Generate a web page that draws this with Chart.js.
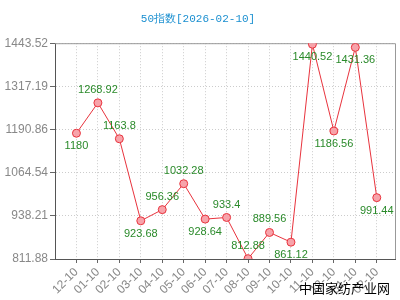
<!DOCTYPE html>
<html>
<head>
<meta charset="utf-8">
<script src="https://cdn.jsdelivr.net/npm/chart.js@4/dist/chart.umd.min.js"></script>
<style>
  html, body { margin: 0; padding: 0; background: #fff; }
</style>
</head>
<body>
<canvas id="chart" width="400" height="300"></canvas>
<script>
// chart data
const months = ['12-10', '01-10', '02-10', '03-10', '04-10', '05-10', '06-10', '07-10',
                '08-10', '09-10', '10-10', '11-10', '12-10', '01-10', '02-10'];
const indexValues = [1180, 1268.92, 1163.8, 923.68, 956.36, 1032.28, 928.64, 933.4,
                     812.88, 889.56, 861.12, 1440.52, 1186.56, 1431.36, 991.44];
const yTicks = [811.88, 938.21, 1064.54, 1190.86, 1317.19, 1443.52];

// where each value label sits relative to its point
const labelSide = ['down', 'up', 'up', 'down', 'up', 'up', 'down', 'up',
                   'up', 'up', 'down', 'down', 'down', 'down', 'down'];

const points = indexValues.map((v, i) => ({ x: i, y: v }));

// value labels, plot frame and watermark
const extras = {
    id: 'extras',
    beforeDatasetsDraw(chart) {
        const { ctx, chartArea: a } = chart;
        ctx.save();
        ctx.strokeStyle = '#999';
        ctx.lineWidth = 1;
        ctx.beginPath();
        ctx.moveTo(a.left, a.top + 0.5);
        ctx.lineTo(a.right + 0.5, a.top + 0.5);
        ctx.lineTo(a.right + 0.5, a.bottom);
        ctx.stroke();
        ctx.restore();
    },
    afterDatasetsDraw(chart) {
        const { ctx } = chart;
        const meta = chart.getDatasetMeta(0);
        ctx.save();
        ctx.font = '11px "Liberation Sans", Arial, sans-serif';
        ctx.fillStyle = '#2a8a2a';
        ctx.textAlign = 'center';
        ctx.textBaseline = 'middle';
        meta.data.forEach((pt, i) => {
            const dy = labelSide[i] === 'up' ? -13 : 13;
            ctx.fillText(String(indexValues[i]), pt.x, pt.y + dy);
        });
        ctx.font = '13px "Noto Sans CJK SC", sans-serif';
        ctx.fillStyle = '#000';
        ctx.textAlign = 'right';
        ctx.fillText('中国家纺产业网', 390, 288);
        ctx.restore();
    }
};

new Chart(document.getElementById('chart'), {
    type: 'line',
    data: {
        datasets: [{
            data: points,
            borderColor: '#e8333d',
            borderWidth: 1,
            backgroundColor: '#f7a3aa',
            pointBackgroundColor: '#f7a3aa',
            pointBorderColor: '#e8333d',
            pointBorderWidth: 1,
            pointRadius: 4,
            tension: 0
        }]
    },
    options: {
        responsive: false,
        animation: false,
        layout: { padding: { left: 0, right: 4, top: 0, bottom: 0 } },
        plugins: {
            legend: { display: false },
            tooltip: { enabled: false },
            title: {
                display: true,
                text: '50指数[2026-02-10]',
                color: '#1a8fd0',
                font: { family: '"Liberation Mono", monospace', size: 11, weight: 'normal' },
                padding: { top: 12, bottom: 18 }
            }
        },
        scales: {
            x: {
                type: 'linear',
                min: -1,
                max: 14.85,
                afterBuildTicks: s => { s.ticks = months.map((m, i) => ({ value: i })); },
                afterFit: s => { s.height = 41; },
                grid: {
                    color: '#cccccc',
                    tickColor: '#666',
                    tickBorderDash: [],
                    tickLength: 4
                },
                border: { color: '#555', dash: [1, 2] },
                ticks: {
                    autoSkip: false,
                    minRotation: 45,
                    maxRotation: 45,
                    color: '#888',
                    padding: 2,
                    font: { family: '"Liberation Sans", Arial, sans-serif', size: 12 },
                    callback: v => months[v]
                }
            },
            y: {
                min: yTicks[0],
                max: yTicks[yTicks.length - 1],
                afterBuildTicks: s => { s.ticks = yTicks.map(v => ({ value: v })); },
                afterFit: s => { s.width = 55; },
                grid: {
                    color: '#cccccc',
                    tickColor: '#666',
                    tickBorderDash: [],
                    tickLength: 5
                },
                border: { color: '#555', dash: [1, 2] },
                ticks: {
                    color: '#888',
                    padding: 2,
                    font: { family: '"Liberation Sans", Arial, sans-serif', size: 12 },
                    callback: v => v.toFixed(2)
                }
            }
        }
    },
    plugins: [extras]
});
</script>
</body>
</html>
